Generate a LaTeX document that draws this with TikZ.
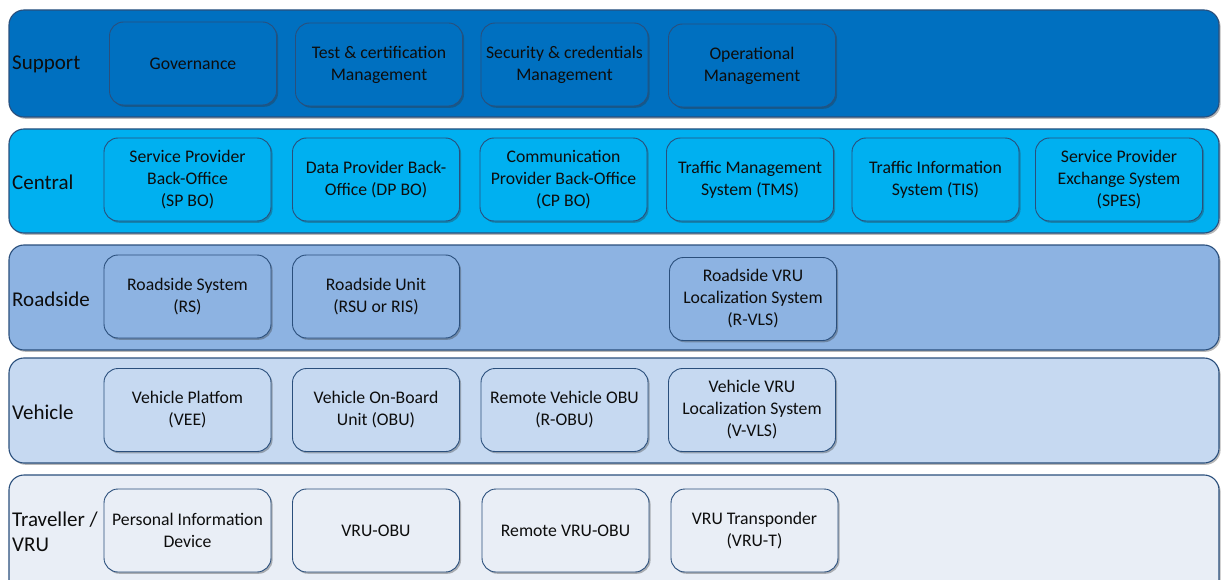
\documentclass[tikz,border=0pt]{standalone}
\usepackage{fontspec}
\setmainfont{Carlito}
\usetikzlibrary{shadows}
\definecolor{supfill}{HTML}{0070C0}
\definecolor{cenfill}{HTML}{00B0F0}
\definecolor{roadfill}{HTML}{8DB3E2}
\definecolor{vehfill}{HTML}{C6D9F1}
\definecolor{travfill}{HTML}{E9EEF6}
\definecolor{edge}{HTML}{2A4F7C}
\definecolor{ink}{HTML}{0D0D0D}
\begin{document}
\begin{tikzpicture}[x=1pt,y=-1pt,
  soft shadow/.style={drop shadow={shadow xshift=1.6pt,shadow yshift=-1.8pt,opacity=.35,fill=black!80}},
  band/.style={draw=edge,line width=1.1pt,rounded corners=15pt,soft shadow},
  unit/.style={draw=edge,line width=0.9pt,rounded corners=14pt,
    minimum width=167pt,minimum height=83pt,inner sep=2pt,align=center,
    font=\fontsize{17.7}{22}\selectfont,text=ink,soft shadow},
  layer/.style={anchor=west,inner sep=0pt,align=left,text=ink,
    font=\fontsize{21}{24.5}\selectfont}]
\useasboundingbox (0,0) rectangle (1223,580);
\clip (0,0) rectangle (1223,580);

% layer bands
\path[band,fill=supfill]  (9,10)  rectangle (1219,117);
\path[band,fill=cenfill]  (9,129) rectangle (1219,233);
\path[band,fill=roadfill] (9,245) rectangle (1219,350);
\path[band,fill=vehfill]  (9,358) rectangle (1219,463);
\path[band,fill=travfill] (9,475) rectangle (1219,610);

% layer titles
\node[layer] (tSup)  at (12,64.5)  {Support};
\node[layer] (tCen)  at (12,182.5) {Central};
\node[layer] (tRoad) at (12,299.5) {Roadside};
\node[layer] (tVeh)  at (12,412.5) {Vehicle};
\node[layer] (tTrav) at (12,532)   {Traveller /\\VRU};

% support
\node[unit,fill=supfill] (gov) at (193,63.5)   {Governance};
\node[unit,fill=supfill] (tcm) at (379,64.5)   {Test \& certification\\Management};
\node[unit,fill=supfill] (scm) at (564.5,64.5) {Security \& credentials\\Management};
\node[unit,fill=supfill] (opm) at (752,65.5)   {Operational\\Management};

% central
\node[unit,fill=cenfill] (spbo) at (187.5,179.5) {Service Provider\\Back-Office\\(SP BO)};
\node[unit,fill=cenfill] (dpbo) at (376,179.5)   {Data Provider Back-\\Office (DP BO)};
\node[unit,fill=cenfill] (cpbo) at (563.5,179.5) {Communication\\Provider Back-Office\\(CP BO)};
\node[unit,fill=cenfill] (tms)  at (750,179.5)   {Traffic Management\\System (TMS)};
\node[unit,fill=cenfill] (tis)  at (935.5,179.5) {Traffic Information\\System (TIS)};
\node[unit,fill=cenfill] (spes) at (1119,179.5)  {Service Provider\\Exchange System\\(SPES)};

% roadside
\node[unit,fill=roadfill] (rs)   at (187.5,296.5) {Roadside System\\(RS)};
\node[unit,fill=roadfill] (rsu)  at (376,296.5)   {Roadside Unit\\(RSU or RIS)};
\node[unit,fill=roadfill] (rvls) at (753,299)     {Roadside VRU\\Localization System\\(R-VLS)};

% vehicle
\node[unit,fill=vehfill] (vee)  at (187.5,410) {Vehicle Platfom\\(VEE)};
\node[unit,fill=vehfill] (obu)  at (376,410)   {Vehicle On-Board\\Unit (OBU)};
\node[unit,fill=vehfill] (robu) at (564.5,410) {Remote Vehicle OBU\\(R-OBU)};
\node[unit,fill=vehfill] (vvls) at (752,410)   {Vehicle VRU\\Localization System\\(V-VLS)};

% traveller / VRU
\node[unit,fill=travfill] (pid)   at (187.5,530.5) {Personal Information\\Device};
\node[unit,fill=travfill] (vobu)  at (376,530.5)   {VRU-OBU};
\node[unit,fill=travfill] (rvobu) at (565.5,530.5) {Remote VRU-OBU};
\node[unit,fill=travfill] (vrut)  at (754.5,530.5) {VRU Transponder\\(VRU-T)};
\end{tikzpicture}
\end{document}
